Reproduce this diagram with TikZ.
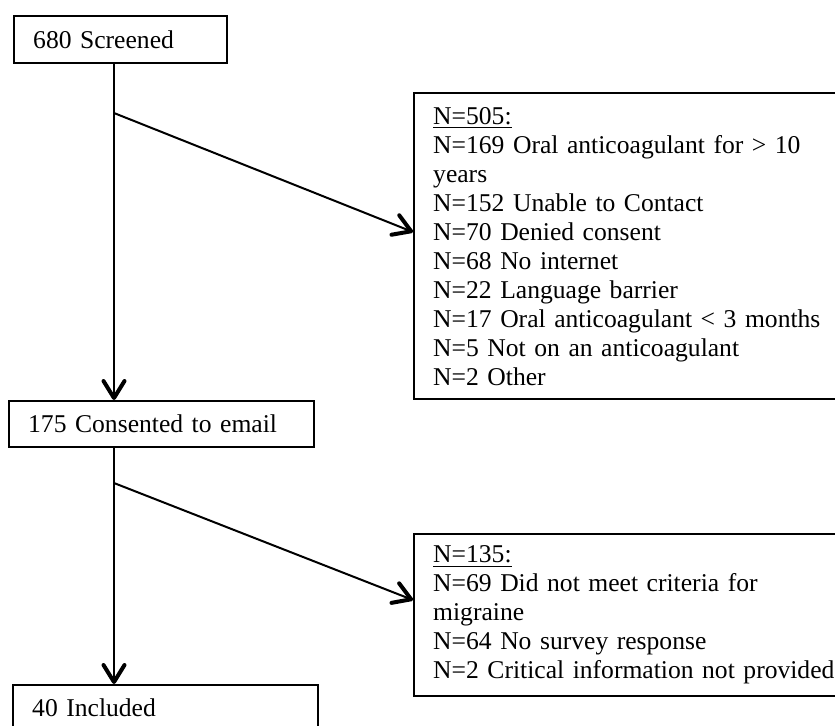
\documentclass[tikz,border=0pt]{standalone}
\usepackage{fontspec}
\setmainfont{Liberation Serif}[WordSpace=0.8]
\usetikzlibrary{arrows.meta}
\begin{document}
\begin{tikzpicture}[x=0.5pt, y=-0.5pt, every node/.style={draw, rectangle, line width=1.2pt, anchor=north west, align=left, inner xsep=9.5pt, inner ysep=0pt, font=\fontsize{12.8}{14.5}\selectfont}, flow/.style={line width=1pt, -{Straight Barb[length=8.5pt, width=10.5pt, line width=2pt, round]}}]
\useasboundingbox (0,0) rectangle (835,725);
\node[text width=87.5pt, minimum height=23.5pt] (B1) at (13,15) {680 Screened};
\node[text width=133.5pt, minimum height=23pt] (B2) at (8,400) {175 Consented to email};
\node[text width=133.5pt, minimum height=23pt] (B3) at (12,684) {40 Included};
\node[text width=205pt, minimum height=153pt] (X1) at (413,92) {\underline{N=505:}\\N=169 Oral anticoagulant for > 10\\years\\N=152 Unable to Contact\\N=70 Denied consent\\N=68 No internet\\N=22 Language barrier\\N=17 Oral anticoagulant < 3 months\\N=5 Not on an anticoagulant\\N=2 Other};
\node[text width=205pt, minimum height=81pt] (X2) at (413,533) {\underline{N=135:}\\N=69 Did not meet criteria for\\migraine\\N=64 No survey response\\N=2 Critical information not provided};
\coordinate (C1) at (114,113);
\coordinate (C2) at (114,483);
\coordinate (D1) at (X1.west |- 0,232);
\coordinate (D2) at (X2.west |- 0,600);
\draw[flow] (B1.south -| C1) -- (B2.north -| C1);
\draw[flow] (B2.south -| C2) -- (B3.north -| C2);
\draw[flow] (C1) -- (D1);
\draw[flow] (C2) -- (D2);
\end{tikzpicture}
\end{document}
